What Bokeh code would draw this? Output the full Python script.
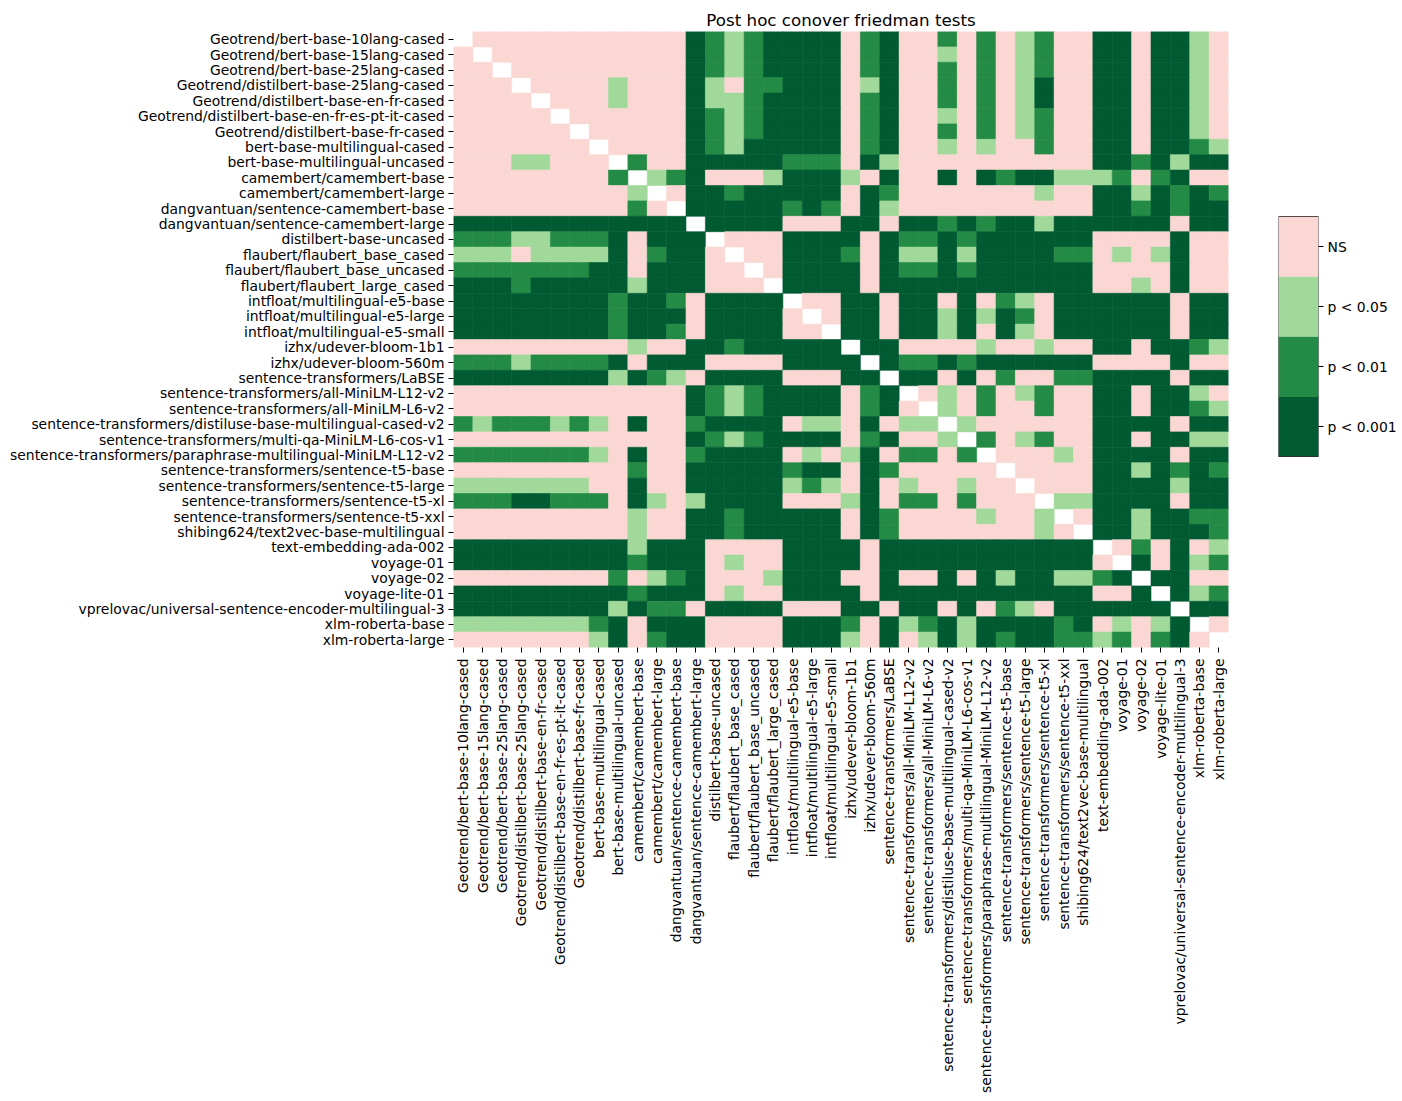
from bokeh.plotting import figure
from bokeh.models import FactorRange, ColumnDataSource, Range1d, FixedTicker
from bokeh.layouts import row
from bokeh.embed import file_html
from bokeh.resources import INLINE
import math

labels = [
    "Geotrend/bert-base-10lang-cased",
    "Geotrend/bert-base-15lang-cased",
    "Geotrend/bert-base-25lang-cased",
    "Geotrend/distilbert-base-25lang-cased",
    "Geotrend/distilbert-base-en-fr-cased",
    "Geotrend/distilbert-base-en-fr-es-pt-it-cased",
    "Geotrend/distilbert-base-fr-cased",
    "bert-base-multilingual-cased",
    "bert-base-multilingual-uncased",
    "camembert/camembert-base",
    "camembert/camembert-large",
    "dangvantuan/sentence-camembert-base",
    "dangvantuan/sentence-camembert-large",
    "distilbert-base-uncased",
    "flaubert/flaubert_base_cased",
    "flaubert/flaubert_base_uncased",
    "flaubert/flaubert_large_cased",
    "intfloat/multilingual-e5-base",
    "intfloat/multilingual-e5-large",
    "intfloat/multilingual-e5-small",
    "izhx/udever-bloom-1b1",
    "izhx/udever-bloom-560m",
    "sentence-transformers/LaBSE",
    "sentence-transformers/all-MiniLM-L12-v2",
    "sentence-transformers/all-MiniLM-L6-v2",
    "sentence-transformers/distiluse-base-multilingual-cased-v2",
    "sentence-transformers/multi-qa-MiniLM-L6-cos-v1",
    "sentence-transformers/paraphrase-multilingual-MiniLM-L12-v2",
    "sentence-transformers/sentence-t5-base",
    "sentence-transformers/sentence-t5-large",
    "sentence-transformers/sentence-t5-xl",
    "sentence-transformers/sentence-t5-xxl",
    "shibing624/text2vec-base-multilingual",
    "text-embedding-ada-002",
    "voyage-01",
    "voyage-02",
    "voyage-lite-01",
    "vprelovac/universal-sentence-encoder-multilingual-3",
    "xlm-roberta-base",
    "xlm-roberta-large",
]

# significance level per pair (lower triangle, row i holds columns 0..i-1)
# 0 = NS, 1 = p < 0.05, 2 = p < 0.01, 3 = p < 0.001
lower_triangle = [
    "",
    "0",
    "00",
    "000",
    "0000",
    "00000",
    "000000",
    "0000000",
    "00011000",
    "000000002",
    "0000000001",
    "00000000020",
    "333333333333",
    "2221122230333",
    "11101111302330",
    "222222233033300",
    "3332333331333000",
    "33333333233203333",
    "333333332333033330",
    "3333333323320333300",
    "00000000010033233333",
    "222122223033300003333",
    "3333333313210333300033",
    "00000000000032123333023",
    "000000000000321233330230",
    "2122212103002333301103011",
    "00000000000032123333023001",
    "222222210300233330101302202",
    "0000000002003333323303200000",
    "11111110030033333121030100100",
    "222332220310133330001302202000",
    "0000000001003323333303200001001",
    "00000000010033233333032000000010",
    "333333333133300003333033333333333",
    "3333333332333010033330333333333330",
    "00000000201230001333003003031331123",
    "333333333233301003333033333333333003",
    "3333333313220333300033033030210333333",
    "11111112303330000333203123133332301013",
    "000000013023300003331030131323322120230",
]

level_names = ["NS", "p < 0.05", "p < 0.01", "p < 0.001"]
level_colors = ["#fbd7d4", "#a1d99b", "#238b45", "#005a32"]

FONT = "DejaVu Sans"

# pixel layout
W, H = 1400, 1100
FL, FR, FT, FB = 453, 1228, 31, 647          # heatmap frame
CL, CR, CT, CB = 1278, 1318, 216, 456        # colour bar box

n = len(labels)
xs, ys, cols = [], [], []
for i in range(n):
    for j in range(n):
        if i == j:
            continue
        lv = int(lower_triangle[i][j]) if j < i else int(lower_triangle[j][i])
        xs.append(labels[j])
        ys.append(labels[i])
        cols.append(level_colors[lv])
src = ColumnDataSource(dict(x=xs, y=ys, c=cols))

W1 = 1260
p = figure(width=W1, height=H,
           x_range=FactorRange(factors=labels),
           y_range=FactorRange(factors=labels[::-1]),
           output_backend="svg", toolbar_location=None,
           min_border_left=FL, min_border_right=W1 - FR,
           min_border_top=FT, min_border_bottom=H - FB,
           title="Post hoc conover friedman tests")
p.title.align = "center"
p.title.text_font = FONT
p.title.text_font_size = "16.7px"
p.title.text_font_style = "normal"
p.title.text_color = "black"
p.title.standoff = 4
p.outline_line_color = None
p.grid.grid_line_color = None
p.background_fill_color = "white"
p.border_fill_color = "white"

p.rect(x="x", y="y", width=1, height=1, source=src,
       fill_color="c", line_color="c", line_width=0.6)


def style_axis(ax):
    ax.axis_line_color = None
    ax.major_tick_out = 5
    ax.major_tick_in = 0
    ax.minor_tick_out = 0
    ax.minor_tick_in = 0
    ax.major_tick_line_color = "black"
    ax.major_label_text_font = FONT
    ax.major_label_text_font_size = "13.9px"
    ax.major_label_text_color = "black"
    ax.major_label_standoff = 4


style_axis(p.xaxis[0])
style_axis(p.yaxis[0])
p.xaxis[0].major_label_standoff = 6
p.xaxis.major_label_orientation = math.pi / 2

# colour bar as a second small figure, same vertical frame as heatmap
nl = len(level_names)
unit = (CB - CT) / nl
y_lo = -(FB - CB) / unit
y_hi = nl + (CT - FT) / unit
W2 = W - W1
cb = figure(width=W2, height=H,
            x_range=Range1d(0, 1),
            y_range=Range1d(y_lo, y_hi),
            output_backend="svg", toolbar_location=None,
            y_axis_location="right",
            min_border_left=CL - W1, min_border_right=W2 - (CR - W1),
            min_border_top=FT, min_border_bottom=H - FB)
order = level_names[::-1]                 # bottom to top
ccols = level_colors[::-1]
cb.quad(left=0, right=1, bottom=list(range(nl)), top=[k + 1 for k in range(nl)],
        fill_color=ccols, line_color=ccols, line_width=0.6)
cb.quad(left=0, right=1, bottom=0, top=nl, fill_color=None,
        line_color="#222222", line_width=0.8)
cb.xaxis.visible = False
cb.grid.grid_line_color = None
cb.outline_line_color = None
ax = cb.yaxis[0]
style_axis(ax)
ax.ticker = FixedTicker(ticks=[k + 0.5 for k in range(nl)])
ax.major_label_overrides = {k + 0.5: order[k] for k in range(nl)}

layout = row(p, cb)
open("out.html", "w").write(file_html(layout, INLINE))
